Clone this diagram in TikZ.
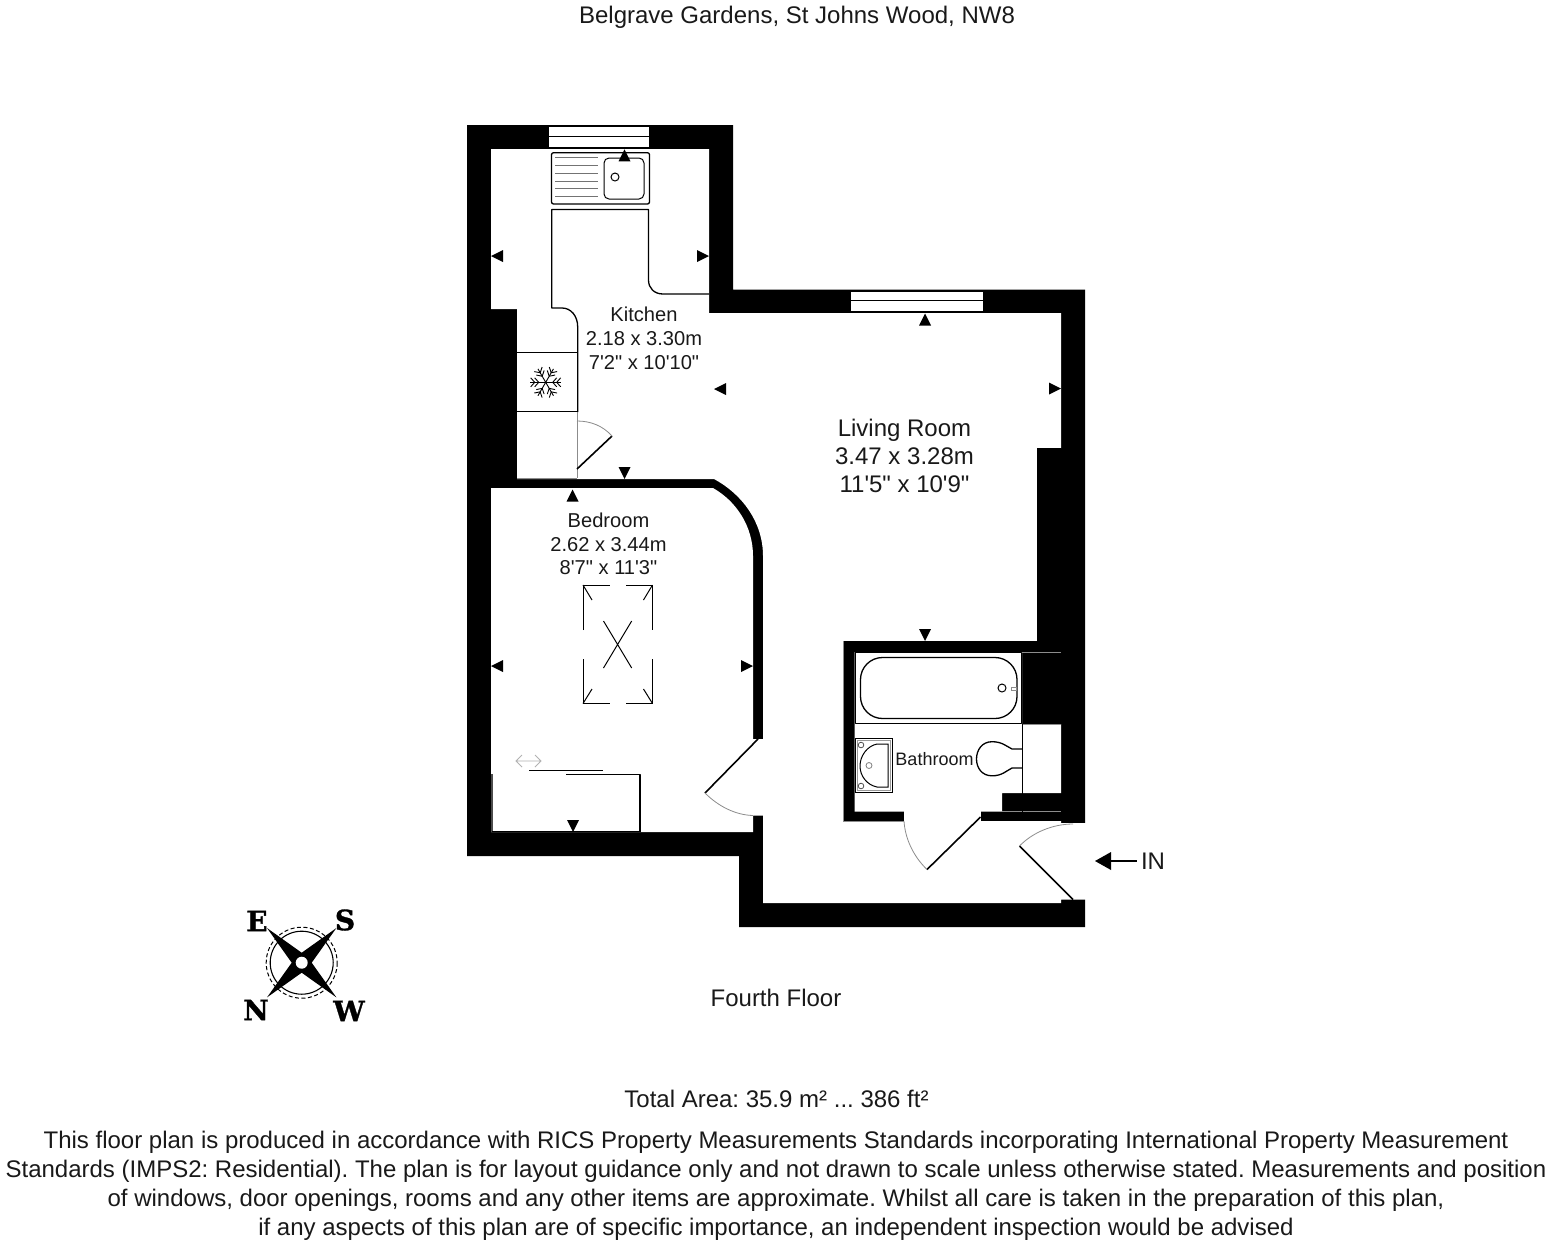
\documentclass[tikz,border=0pt]{standalone}
\usepackage{fontspec}
\setmainfont{Liberation Sans}
\newfontfamily\planfont{Liberation Sans}
\newfontfamily\compassfont[BoldFeatures={FakeBold=1.2}]{DejaVu Serif}
\newcommand{\fs}[1]{\fontsize{#1}{#1}\selectfont}
\tikzset{
  wall/.style={fill=black,draw=none},
  room/.style={fill=white,draw=none},
  fixture/.style={draw=black,line width=1.3pt,line join=round},
  thin fixture/.style={draw=black,line width=1pt},
  swing/.style={draw=black!45,line width=0.8pt},
  leaf/.style={draw=black,line width=1.6pt},
  hairline/.style={draw=black!45,line width=0.8pt},
  marker/.style={fill=black,draw=none},
  lbl/.style={anchor=base,inner sep=0pt,outer sep=0pt,text=black!90},
  bigtext/.style={lbl,font=\planfont\frenchspacing\fs{24}},
  roomsmall/.style={lbl,font=\planfont\frenchspacing\fs{20.1}},
  compassletter/.style={inner sep=0pt,font=\compassfont\bfseries\fs{28}},
}
\newcommand{\mkup}[2]{\fill[marker] (#1,#2) -- (#1-6,#2+12) -- (#1+6,#2+12) -- cycle;}
\newcommand{\mkdown}[2]{\fill[marker] (#1,#2) -- (#1-6,#2-12) -- (#1+6,#2-12) -- cycle;}
\newcommand{\mkleft}[2]{\fill[marker] (#1,#2) -- (#1+12,#2-6) -- (#1+12,#2+6) -- cycle;}
\newcommand{\mkright}[2]{\fill[marker] (#1,#2) -- (#1-12,#2-6) -- (#1-12,#2+6) -- cycle;}
\begin{document}
\begin{tikzpicture}[x=1pt,y=-1pt]
\useasboundingbox (0,0) rectangle (1552,1240);
% walls
\path[wall] (467,125) -- (733,125) -- (733,289.5) -- (1085,289.5) -- (1085,927) -- (739,927) -- (739,856) -- (467,856) -- cycle;
% main interior
\path[room] (491,149) -- (709,149) -- (709,313) -- (1061,313) -- (1061,448) -- (1037,448) -- (1037,641) -- (843.5,641) -- (843.5,821) -- (1061,821) -- (1061,823) -- (1087,823) -- (1087,899.5) -- (1061,899.5) -- (1061,903) -- (763,903) -- (763,815.5) -- (753,815.5) -- (753,832) -- (491,832) -- (491,488) -- (713,488) .. controls (736,501) and (753,526) .. (753,556) -- (753,739) -- (763,739) -- (763,556) .. controls (763,522) and (742,494) .. (714,479) -- (517,479) -- (517,309) -- (491,309) -- cycle;
% bathroom walls
\path[wall] (843.5,641) rectangle (1061,821);
\path[wall] (1037,448) rectangle (1061,660);
\path[room] (854.5,652) -- (1022,652) -- (1022,724) -- (1061,724) -- (1061,793) -- (1002,793) -- (1002,811.7) -- (854.5,811.7) -- cycle;
\path[room] (904,811) rectangle (981,821.5);
\draw[hairline] (1022,652) -- (1061,652);
\draw[hairline] (1002,811.5) -- (1061,811.5);
\draw[hairline] (1022,724) -- (1061,724);
\draw[hairline] (843.5,641) -- (843.5,821) -- (904,821);
% windows
\path[room] (549,127) rectangle (649,148);
\draw[black,line width=1.3pt] (549,136.8) -- (649,136.8);
\draw[black,line width=1.3pt] (549,148) -- (649,148);
\path[room] (851,291.5) rectangle (983,312);
\draw[black,line width=1.3pt] (851,300.8) -- (983,300.8);
\draw[black,line width=1.3pt] (851,312) -- (983,312);
% sink
\draw[fixture,rounded corners=2pt] (551.5,152.7) rectangle (649.5,204);
\draw[fixture,rounded corners=5pt,line width=1pt] (604,158) rectangle (644,199);
\draw[thin fixture] (615,177) circle (4);
\foreach \yy in {157.7,165.4,173,181,188.4,196}
  \draw[draw=black!55,line width=1pt] (555,\yy) -- (598,\yy);
% counter
\draw[fixture] (709,294) -- (663,294) .. controls (654,294) and (648.5,288) .. (648.5,280) -- (648.5,209.5) -- (551.7,209.5) -- (551.7,308) -- (562,308) .. controls (571,308) and (577.7,316) .. (577.7,327) -- (577.7,412);
\draw[fixture] (517,352.7) -- (577.7,352.7);
\draw[fixture] (517,411.7) -- (577.7,411.7);
\draw[hairline] (577,412) -- (577,478);
\draw[hairline] (517,478.5) -- (577,478.5);
% fridge snowflake
\begin{scope}[shift={(545.7,382.3)}]
\foreach \a in {0,60,120,180,240,300} {
  \begin{scope}[rotate=\a]
  \draw[black,line width=0.9pt] (0,0) -- (15.5,0);
  \draw[black,line width=0.9pt] (7,0) -- (11,-4.5) (7,0) -- (11,4.5);
  \draw[black,line width=0.9pt] (11,0) -- (15,-4.5) (11,0) -- (15,4.5);
  \end{scope}
}
\end{scope}
% kitchen door
\draw[leaf] (577,469) -- (612,436);
\draw[swing] (577,421) .. controls (591,421) and (603,426) .. (612,436);
% bedroom door
\draw[leaf] (758,739) -- (705,793);
\draw[swing] (705,793) .. controls (718,806) and (735,815) .. (753,815.5);
% closet
\draw[draw=black!70,line width=1.2pt] (492,774) -- (492,832);
\draw[fixture] (492,831.5) -- (640,831.5);
\draw[fixture] (566,774.3) -- (640,774.3) -- (640,832);
\draw[fixture] (529,770.5) -- (603,770.5);
\draw[draw=black!30,line width=0.9pt] (516,761) -- (541,761) (522,755) -- (516,761) -- (522,767) (535,755) -- (541,761) -- (535,767);
% skylight
\draw[thin fixture] (583,630) -- (583,585) -- (610,585);
\draw[thin fixture] (626,585) -- (652.5,585) -- (652.5,630);
\draw[thin fixture] (583,659) -- (583,703.5) -- (610,703.5);
\draw[thin fixture] (626,703.5) -- (652.5,703.5) -- (652.5,659);
\draw[thin fixture] (583,585) -- (592,600) (652.5,585) -- (643.5,600) (583,703.5) -- (592,689) (652.5,703.5) -- (643.5,689);
\draw[thin fixture] (603.5,621) -- (631.7,668) (631.7,621) -- (603.5,668);
% bath
\draw[fixture] (855.5,652.5) rectangle (1021.5,723.3);
\draw[fixture,rounded corners=22pt] (860.5,657.5) rectangle (1017,718.5);
\draw[thin fixture] (1002,688) circle (4);
\draw[draw=black!45,line width=0.7pt] (1011,687) rectangle (1016,690);
% basin
\draw[draw=black,line width=1.3pt] (855.5,738.7) rectangle (892.7,792.5);
\draw[draw=black!40,line width=0.8pt] (857.5,740.7) rectangle (890.7,790.5);
\draw[thin fixture] (888,744) -- (877,744) .. controls (867,746) and (860,756) .. (860,766) .. controls (860,776) and (867,785) .. (877,787) -- (888,787) -- cycle;
\draw[draw=black!70,line width=0.8pt] (861,745) circle (2.8) (861,786) circle (2.8);
\draw[draw=black!50,line width=0.8pt] (869,765.5) circle (3);
% toilet
\draw[fixture] (1022,749) -- (1012,749) .. controls (1006,746) and (1002,741.7) .. (992,741.7) .. controls (982,741.7) and (976.5,750) .. (976.5,759) .. controls (976.5,768) and (982,775.8) .. (992,775.8) .. controls (1002,775.8) and (1006,771) .. (1012,768) -- (1022,768);
\draw[draw=black,line width=1pt] (1022,724) -- (1022,812);
% bath door
\draw[leaf] (980.5,817) -- (927,869.5);
\draw[swing] (904,821) .. controls (905,838) and (913,856) .. (927,869.5);
% entrance door
\draw[leaf] (1019.5,846) -- (1073,899.5);
\draw[swing] (1019.5,846) .. controls (1032,833) and (1052,824) .. (1073,824);
% direction markers
\mkup{624.5}{149.3}
\mkleft{491}{256}
\mkright{709}{256}
\mkleft{714}{389}
\mkdown{624.5}{479}
\mkup{572.6}{489.5}
\mkup{925}{313.5}
\mkright{1061}{388.5}
\mkdown{925}{641}
\mkleft{491}{666}
\mkright{753}{666}
\mkdown{573}{832}
% IN arrow
\coordinate (intip) at (1095,861);
\coordinate (intail) at (1137,861);
\node[bigtext] (inlabel) at (1153,869) {IN};
\fill[black] (intip) -- (1111,852) -- (1111,870) -- cycle;
\draw[black,line width=1.8pt] (1108,861) -- (intail);
% compass
\begin{scope}[shift={(301.7,962.7)}]
\draw[black,line width=1.1pt] (0,0) circle (31.5);
\draw[black,line width=1pt,dash pattern=on 4pt off 2.5pt] (0,0) circle (35.5);
\fill[black] (-34.7,-34.7) -- (-10,0) -- (-34.7,34.7) -- (0,10) -- (34.7,34.7) -- (10,0) -- (34.7,-34.7) -- (0,-10) -- cycle;
\fill[white] (0,0) circle (6);
\end{scope}
\node[compassletter] (cE) at (257,921) {E};
\node[compassletter] (cS) at (345,920) {S};
\node[compassletter] (cN) at (256,1010) {N};
\node[compassletter] (cW) at (349,1011) {W};
% labels
\node[bigtext] (title) at (797,23.5) {Belgrave Gardens, St Johns Wood, NW8};
\node[roomsmall] (k1) at (644,321.7) {Kitchen};
\node[roomsmall] (k2) at (644,345.7) {2.18 x 3.30m};
\node[roomsmall] (k3) at (644,369.7) {7'2" x 10'10"};
\node[bigtext] (l1) at (904.5,436) {Living Room};
\node[bigtext] (l2) at (904.5,464) {3.47 x 3.28m};
\node[bigtext] (l3) at (904.5,492) {11'5" x 10'9"};
\node[roomsmall] (b1) at (608.5,527.7) {Bedroom};
\node[roomsmall] (b2) at (608.5,551.7) {2.62 x 3.44m};
\node[roomsmall] (b3) at (608.5,574.7) {8'7" x 11'3"};
\node[lbl,font=\planfont\fs{18}] (bath) at (934.5,765) {Bathroom};
\node[bigtext] (floor) at (776,1006.5) {Fourth Floor};
\node[bigtext] (total) at (776.5,1107) {Total Area: 35.9 m² ... 386 ft²};
\node[bigtext] (d1) at (776,1148) {This floor plan is produced in accordance with RICS Property Measurements Standards incorporating International Property Measurement};
\node[bigtext] (d2) at (776,1177) {Standards (IMPS2: Residential). The plan is for layout guidance only and not drawn to scale unless otherwise stated. Measurements and position};
\node[bigtext] (d3) at (776,1206) {of windows, door openings, rooms and any other items are approximate. Whilst all care is taken in the preparation of this plan,};
\node[bigtext] (d4) at (776,1235) {if any aspects of this plan are of specific importance, an independent inspection would be advised};
\end{tikzpicture}
\end{document}
